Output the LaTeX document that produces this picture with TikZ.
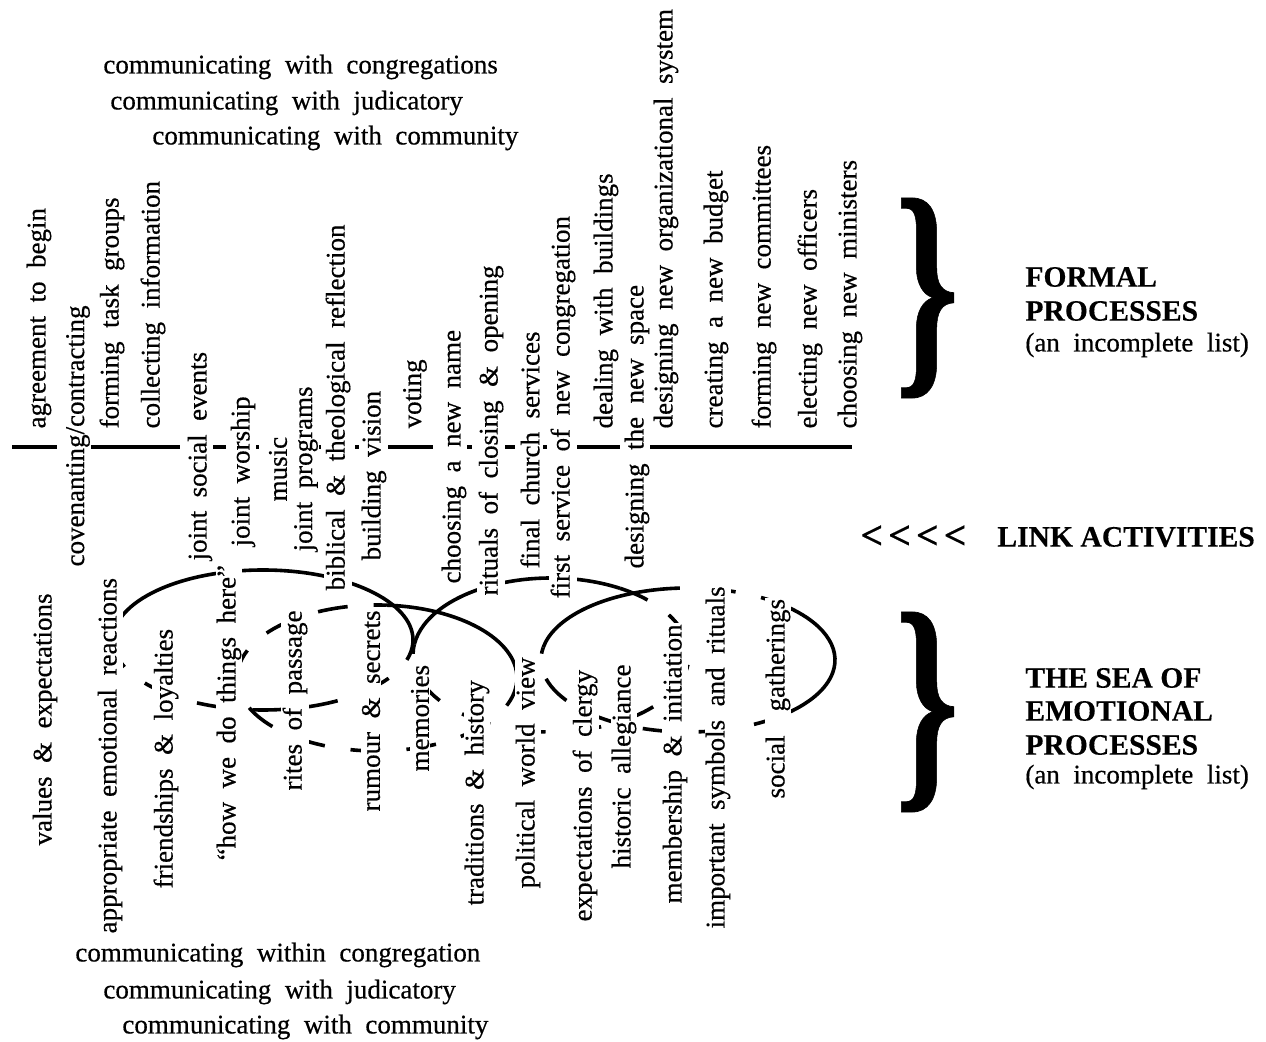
\documentclass[tikz,border=0pt]{standalone}
\usepackage{fontspec}
\usepackage{graphicx}
\newfontface\labfont[FakeBold=0.5]{Liberation Serif}
\newfontface\headfont[FakeBold=0.3]{Liberation Serif Bold}
\newcommand\labsize{\labfont\fontsize{13.5}{16}\selectfont\spaceskip=0.5em plus 0.1em minus 0.1em\relax}
\newcommand\headsize{\headfont\fontsize{14.8}{17}\selectfont}
\tikzset{
  lbl/.style={font=\labsize, inner sep=0.6pt, fill=white},
  vtxt/.style={lbl, rotate=90, anchor=west},
  htxt/.style={font=\labsize, inner sep=0pt, anchor=west},
  hdtxt/.style={font=\headsize, inner sep=0pt, anchor=west},
  rulestyle/.style={line width=2pt},
  solidarc/.style={line width=1.8pt},
  dasharc/.style={line width=1.8pt, dash pattern=on 15pt off 13pt},
  bracebox/.style={inner sep=0pt}
}
\begin{document}
\begin{tikzpicture}[x=0.5pt,y=0.5pt]
\useasboundingbox (0,0) rectangle (1266,-1042);
\fill[white] (0,0) rectangle (1266,-1042);

% ---- top communication lines
\node[htxt] (tc1) at (103,-67) {communicating with congregations};
\node[htxt] (tc2) at (110,-103) {communicating with judicatory};
\node[htxt] (tc3) at (152,-138) {communicating with community};

% ---- dividing line (broken where the link activities cross it)
\foreach \a/\b in {12/57, 85/180, 208/226, 255/259, 315/321, 355/359, 388/433, 463/472, 502/515, 543/547, 577/620, 650/852}
  \draw[rulestyle] (\a,-447) -- (\b,-447);

% ---- chain of ellipses (sea of emotional processes)
\coordinate (c1) at (263,-640);
\coordinate (c2) at (377,-678);
\coordinate (c3) at (551,-655);
\coordinate (c4) at (688,-660);
\draw[solidarc] (c1) ++(0:150 and 70) arc[start angle=0,end angle=180,x radius=150,y radius=70];
\draw[dasharc] (c1) ++(180:150 and 70) arc[start angle=180,end angle=360,x radius=150,y radius=70];
\draw[solidarc] (c2) ++(86:140 and 73) arc[start angle=86,end angle=0,x radius=140,y radius=73];
\draw[dasharc] (c2) ++(0:140 and 73) arc[start angle=0,end angle=-180,x radius=140,y radius=73];
\draw[dasharc] (c2) ++(180:140 and 73) arc[start angle=180,end angle=86,x radius=140,y radius=73];
\draw[solidarc] (c3) ++(172:138 and 77) arc[start angle=172,end angle=60,x radius=138,y radius=77];
\draw[dasharc] (c3) ++(60:138 and 77) arc[start angle=60,end angle=-188,x radius=138,y radius=77];
\draw[solidarc] (c4) ++(170:147 and 72) arc[start angle=170,end angle=105,x radius=147,y radius=72];
\draw[dasharc] (c4) ++(105:147 and 72) arc[start angle=105,end angle=50,x radius=147,y radius=72];
\draw[solidarc] (c4) ++(50:147 and 72) arc[start angle=50,end angle=-50,x radius=147,y radius=72];
\draw[dasharc] (c4) ++(-50:147 and 72) arc[start angle=-50,end angle=-190,x radius=147,y radius=72];

% ---- formal processes
\node[vtxt] (f1) at (39,-430) {agreement to begin};
\node[vtxt] (f3) at (112,-430) {forming task groups};
\node[vtxt] (f4) at (153,-430) {collecting information};
\node[vtxt] (f11) at (415,-430) {voting};
\node[vtxt] (f16) at (606,-430) {dealing with buildings};
\node[vtxt] (f18) at (666,-430) {designing new organizational system};
\node[vtxt] (f19) at (716,-430) {creating a new budget};
\node[vtxt] (f20) at (764,-430) {forming new committees};
\node[vtxt] (f21) at (810,-430) {electing new officers};
\node[vtxt] (f22) at (850,-430) {choosing new ministers};

% ---- link activities
\node[vtxt] (l2) at (78,-568) {covenanting/contracting};
\node[vtxt] (l5) at (200,-562) {joint social events};
\node[vtxt] (l6) at (243,-548) {joint worship};
\node[vtxt] (l7) at (278,-503) {music};
\node[vtxt] (l8) at (306,-553) {joint programs};
\node[vtxt] (l9) at (338,-592) {biblical \& theological reflection};
\node[vtxt] (l10) at (374,-562) {building vision};
\node[vtxt] (l12) at (454,-585) {choosing a new name};
\node[vtxt] (l13) at (491,-597) {rituals of closing \& opening};
\node[vtxt] (l14) at (530,-570) {final church services};
\node[vtxt] (l15) at (563,-600) {first service of new congregation};
\node[vtxt] (l17) at (637,-570) {designing the new space};

% ---- emotional processes
\node[vtxt] (e1) at (45,-847) {values \& expectations};
\node[vtxt] (e2) at (110,-935) {appropriate emotional reactions};
\node[vtxt] (e3) at (166,-890) {friendships \& loyalties};
\node[vtxt] (e4) at (229,-862) {“how we do things here”};
\node[vtxt] (e5) at (295,-792) {rites of passage};
\node[vtxt] (e6) at (371,-813) {rumour \& secrets};
\node[vtxt] (e7) at (420,-773) {memories};
\node[vtxt] (e8) at (477,-907) {traditions \& history};
\node[vtxt] (e9) at (528,-890) {political world view};
\node[vtxt] (e10) at (585,-923) {expectations of clergy};
\node[vtxt] (e11) at (624,-870) {historic allegiance};
\node[vtxt] (e12) at (675,-905) {membership \& initiation};
\node[vtxt] (e13) at (718,-930) {important symbols and rituals};
\node[vtxt] (e14) at (778,-800) {social\hspace{12pt}gatherings};

% ---- bottom communication lines
\node[htxt] (bc1) at (75,-955) {communicating within congregation};
\node[htxt] (bc2) at (103,-992) {communicating with judicatory};
\node[htxt] (bc3) at (122,-1027) {communicating with community};

% ---- braces and right-hand labels
\node[bracebox] (br1) at (927,-298) {\resizebox*{32pt}{100pt}{\headfont\}}};
\node[bracebox] (br2) at (927,-712) {\resizebox*{32pt}{100pt}{\headfont\}}};
\node[hdtxt] (fp1) at (1025,-277) {FORMAL};
\node[hdtxt] (fp2) at (1025,-311) {PROCESSES};
\node[htxt] (fp3) at (1025,-345) {(an incomplete list)};
\node[hdtxt, font=\headfont\fontsize{20}{22}\selectfont] (arr) at (860,-537) {<\hspace{2.5pt}<\hspace{2.5pt}<\hspace{2.5pt}<};
\node[hdtxt] (la) at (997,-537) {LINK ACTIVITIES};
\node[hdtxt] (sp1) at (1025,-678) {THE SEA OF};
\node[hdtxt] (sp2) at (1025,-711) {EMOTIONAL};
\node[hdtxt] (sp3) at (1025,-745) {PROCESSES};
\node[htxt] (sp4) at (1025,-777) {(an incomplete list)};
\end{tikzpicture}
\end{document}
